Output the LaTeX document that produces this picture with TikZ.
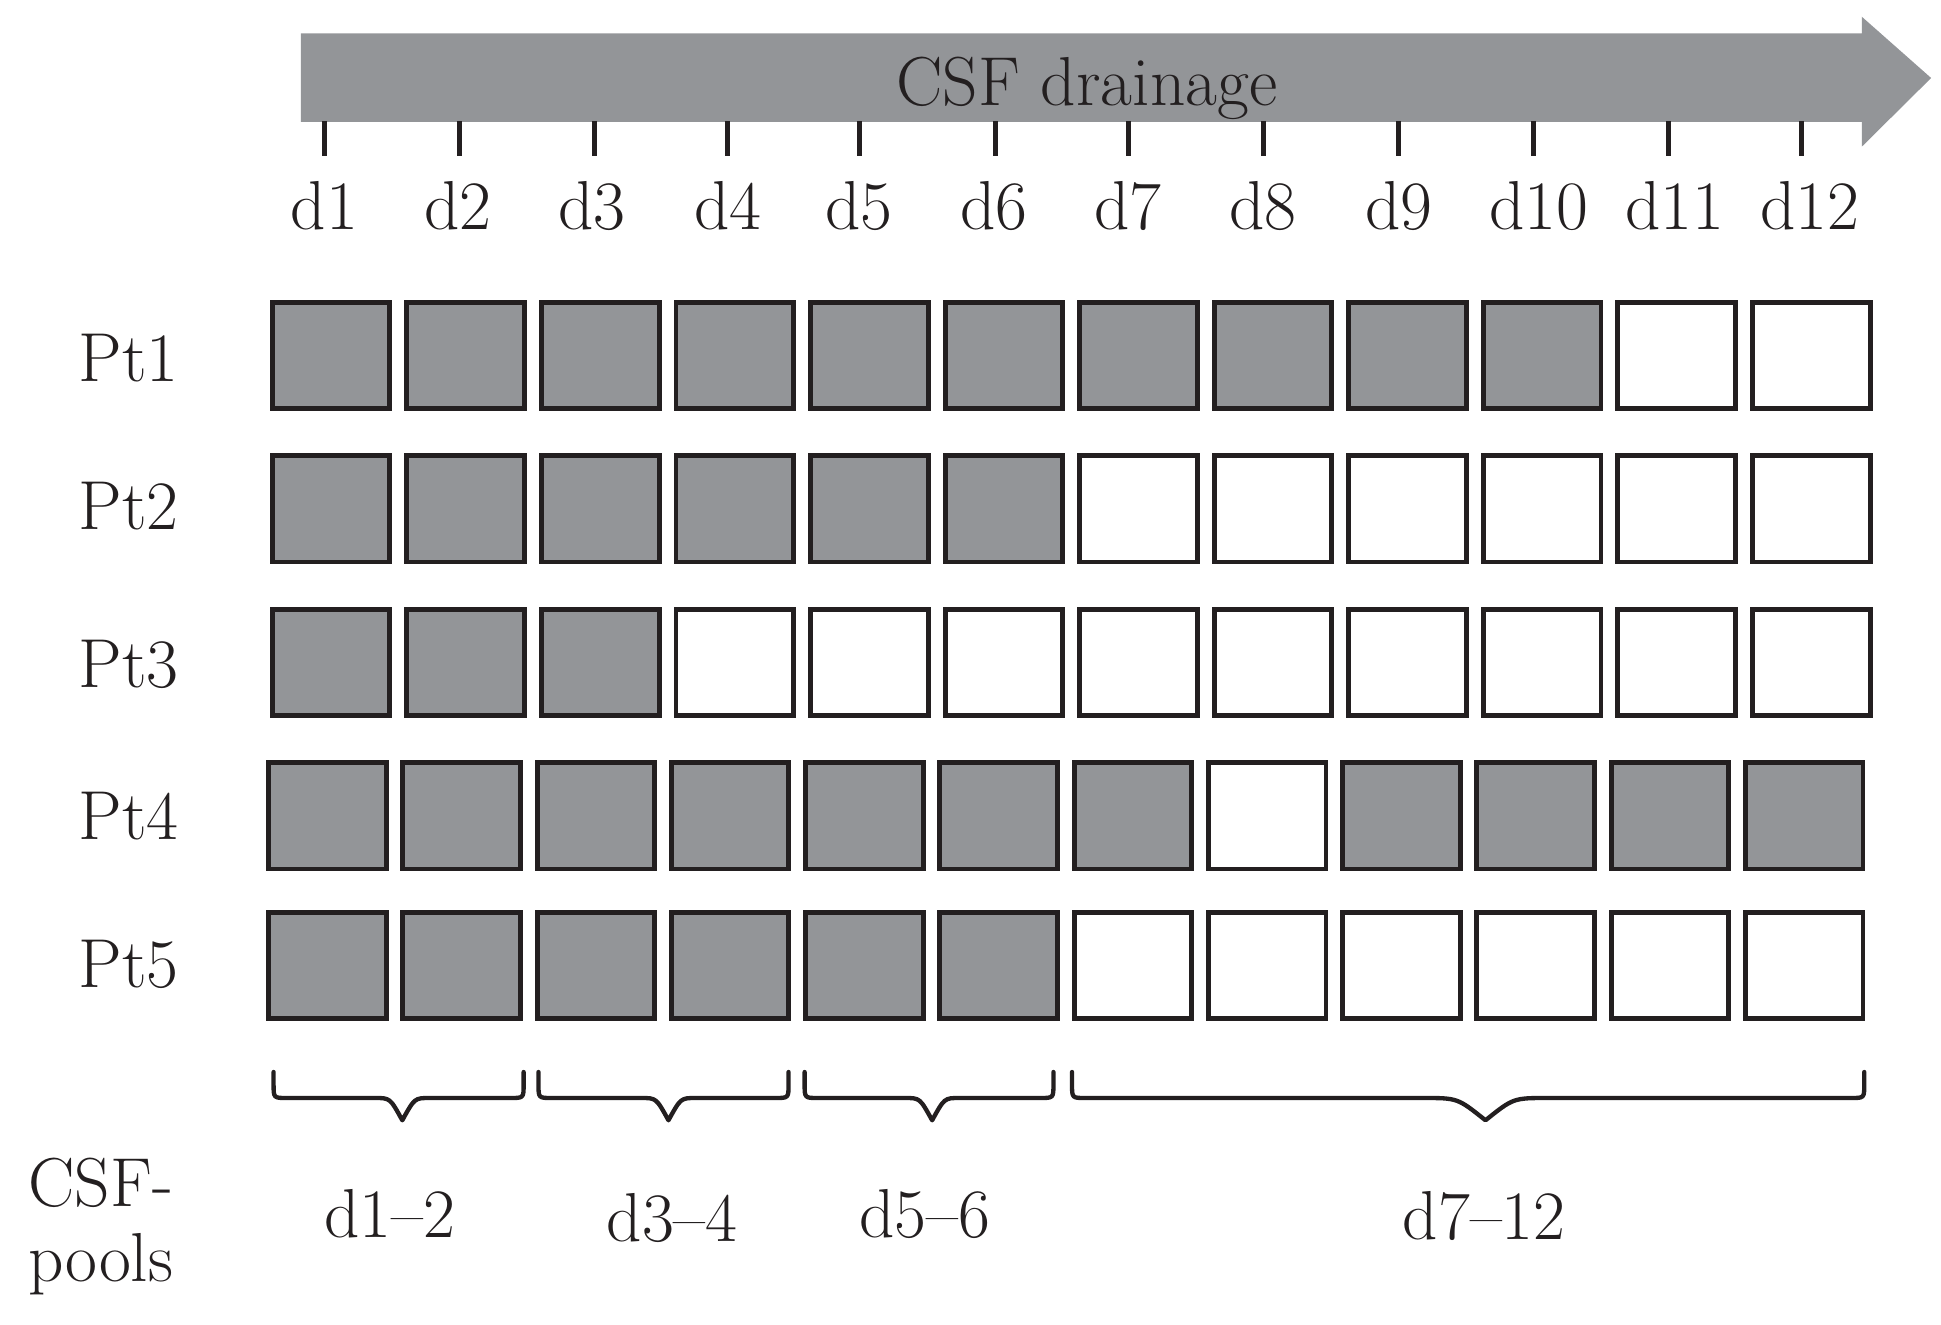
\documentclass[tikz,border=0pt]{standalone}
\usepackage{tikz}
\definecolor{cellgray}{HTML}{939598}
\definecolor{ink}{HTML}{231F20}
\colorlet{cg}{cellgray}
\colorlet{cw}{white}
\tikzset{
  cell/.style={draw=ink, line width=4pt, minimum width=95pt, minimum height=86pt, inner sep=0pt, outer sep=0pt},
  lbl/.style={text=ink, font=\fontsize{56}{62}\selectfont, inner sep=0pt, anchor=base},
  tickmark/.style={draw=ink, line width=4pt},
  bracestyle/.style={draw=ink, line width=3.5pt, line cap=round, line join=round},
}
\newcommand{\csfbrace}[4]{%
  \draw[bracestyle] (#1,866) -- (#1,876) .. controls (#1,887) .. ({#1+11},887)
    -- ({#3-#4},887) .. controls ({#3-0.45*#4},887) .. (#3,905)
    .. controls ({#3+0.45*#4},887) .. ({#3+#4},887)
    -- ({#2-11},887) .. controls (#2,887) .. (#2,876) -- (#2,866);}
\begin{document}
\begin{tikzpicture}[x=1pt,y=-1pt]
\useasboundingbox (0,0) rectangle (1568,1070);
% arrow
\fill[cellgray] (243,27) -- (1504,27) -- (1504,13.5) -- (1560,63) -- (1504,118.5) -- (1504,98.5) -- (243,98.5) -- cycle;
\node[lbl] (title) at (878,85) {CSF drainage};
% ticks
\foreach \x [count=\i] in {262,371,480,588,694,804,912,1021,1130,1239,1348,1455}
  {\coordinate (t\i) at (\x,98); \draw[tickmark] (t\i) -- ++(0,28);}
% day labels
\foreach \x [count=\i] in {262,370,478,588,694,803,911,1020,1130,1243,1353,1462}
  {\node[lbl] (d\i) at (\x,185) {d\i};}
% rows
\foreach \v [count=\c] in {cg,cg,cg,cg,cg,cg,cg,cg,cg,cg,cw,cw}
  {\node[cell, fill=\v] (c1-\c) at ({267.5+(\c-1)*108.7},287) {};}
\foreach \v [count=\c] in {cg,cg,cg,cg,cg,cg,cw,cw,cw,cw,cw,cw}
  {\node[cell, fill=\v] (c2-\c) at ({267.5+(\c-1)*108.7},411) {};}
\foreach \v [count=\c] in {cg,cg,cg,cw,cw,cw,cw,cw,cw,cw,cw,cw}
  {\node[cell, fill=\v] (c3-\c) at ({267.5+(\c-1)*108.7},535) {};}
\foreach \v [count=\c] in {cg,cg,cg,cg,cg,cg,cg,cw,cg,cg,cg,cg}
  {\node[cell, fill=\v] (c4-\c) at ({264.5+(\c-1)*108.45},659) {};}
\foreach \v [count=\c] in {cg,cg,cg,cg,cg,cg,cw,cw,cw,cw,cw,cw}
  {\node[cell, fill=\v] (c5-\c) at ({264.5+(\c-1)*108.45},780) {};}
% row labels
\node[lbl] (pt1) at (104,308) {Pt1};
\node[lbl] (pt2) at (104,428) {Pt2};
\node[lbl] (pt3) at (104,555) {Pt3};
\node[lbl] (pt4) at (104,678) {Pt4};
\node[lbl] (pt5) at (104,798) {Pt5};
% braces
\csfbrace{221}{423}{325}{22}
\csfbrace{435}{637}{540}{22}
\csfbrace{650}{851}{753}{22}
\csfbrace{866}{1506}{1200}{50}
% pool labels
\node[lbl] (p1) at (315,1000) {d1--2};
\node[lbl] (p2) at (543,1003) {d3--4};
\node[lbl] (p3) at (747,1000) {d5--6};
\node[lbl] (p4) at (1199,1001) {d7--12};
\node[lbl, anchor=base east] (csf) at (140,975) {CSF-};
\node[lbl, anchor=base east] (pools) at (140,1035) {pools};
\end{tikzpicture}
\end{document}
